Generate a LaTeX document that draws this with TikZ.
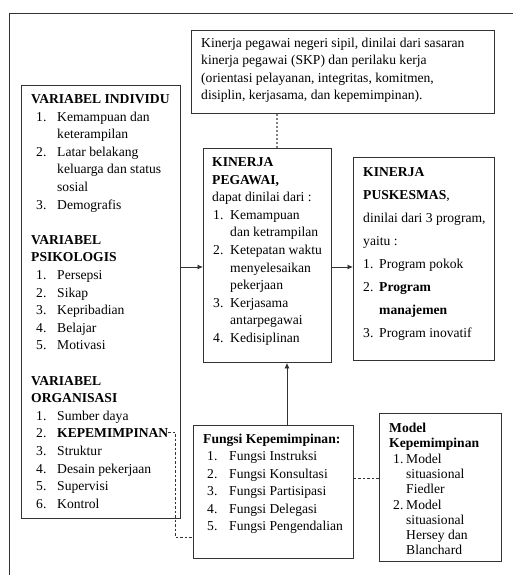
\documentclass[tikz,border=0pt]{standalone}
\usepackage{fontspec}
\setmainfont{Liberation Serif}
\usetikzlibrary{arrows.meta,calc,positioning}
\newcommand{\itemrow}[4]{\hspace*{#1pt}\makebox[#2pt][l]{#3}#4}
\definecolor{boxline}{gray}{0.2}

\begin{document}
\begin{tikzpicture}[x=1pt,y=-1pt,
    box/.style={draw=boxline,line width=0.9pt,rectangle,inner sep=0pt,anchor=north west},
    txt/.style={anchor=base west,inner sep=0pt},
    arr/.style={-{Latex[length=5.5pt,width=5pt]},line width=0.8pt,draw=boxline},
    dashline/.style={draw=boxline,line width=0.6pt,dash pattern=on 2.5pt off 2pt}]
  \useasboundingbox (0,0) rectangle (512,575);
  %Frame
  \draw[boxline,line width=0.9pt] (9,590) -- (9,13) -- (530,13);
  %Boxes
  \node[box,minimum width=303pt,minimum height=83pt] (top) at (191,30) {};
  \node[box,minimum width=159pt,minimum height=433pt] (var) at (21,85) {};
  \node[box,minimum width=128pt,minimum height=214pt] (kp) at (203,148) {};
  \node[box,minimum width=141pt,minimum height=203pt] (pk) at (353,157) {};
  \node[box,minimum width=160pt,minimum height=133pt] (fk) at (193,425) {};
  \node[box,minimum width=122pt,minimum height=148pt] (mk) at (379,413) {};
  %Text
  \node[txt,font=\fontsize{13.6}{17.3}\selectfont] (toptxt) at (201,47.5) {%
    \begin{tabular}[t]{@{}l@{}}
    Kinerja pegawai negeri sipil, dinilai dari sasaran\\
    kinerja pegawai (SKP) dan perilaku kerja\\
    (orientasi pelayanan, integritas, komitmen,\\
    disiplin, kerjasama, dan kepemimpinan).
    \end{tabular}};
  \def\vi{\itemrow{5}{21}}
  \node[txt,font=\fontsize{13.6}{17.6}\selectfont] (vartxt) at (31,103.5) {%
    \begin{tabular}[t]{@{}l@{}}
    \textbf{VARIABEL INDIVIDU}\\
    \vi{1.}{Kemampuan dan}\\
    \vi{}{keterampilan}\\
    \vi{2.}{Latar belakang}\\
    \vi{}{keluarga dan status}\\
    \vi{}{sosial}\\
    \vi{3.}{Demografis}\\
    \\
    \textbf{VARIABEL}\\
    \textbf{PSIKOLOGIS}\\
    \vi{1.}{Persepsi}\\
    \vi{2.}{Sikap}\\
    \vi{3.}{Kepribadian}\\
    \vi{4.}{Belajar}\\
    \vi{5.}{Motivasi}\\
    \\
    \textbf{VARIABEL}\\
    \textbf{ORGANISASI}\\
    \vi{1.}{Sumber daya}\\
    \vi{2.}{\textbf{KEPEMIMPINAN}}\\
    \vi{3.}{Struktur}\\
    \vi{4.}{Desain pekerjaan}\\
    \vi{5.}{Supervisi}\\
    \vi{6.}{Kontrol}
    \end{tabular}};
  \def\kpi{\itemrow{1}{17}}
  \node[txt,font=\fontsize{13.6}{17.6}\selectfont] (kptxt) at (212,166.5) {%
    \begin{tabular}[t]{@{}l@{}}
    \textbf{KINERJA}\\
    \textbf{PEGAWAI,}\\
    dapat dinilai dari :\\
    \kpi{1.}{Kemampuan}\\
    \kpi{}{dan ketrampilan}\\
    \kpi{2.}{Ketepatan waktu}\\
    \kpi{}{menyelesaikan}\\
    \kpi{}{pekerjaan}\\
    \kpi{3.}{Kerjasama}\\
    \kpi{}{antarpegawai}\\
    \kpi{4.}{Kedisiplinan}
    \end{tabular}};
  \def\pki{\itemrow{0}{16}}
  \node[txt,font=\fontsize{13.6}{23}\selectfont] (pktxt) at (363,176.5) {%
    \begin{tabular}[t]{@{}l@{}}
    \textbf{KINERJA}\\
    \textbf{PUSKESMAS},\\
    dinilai dari 3 program,\\
    yaitu :\\
    \pki{1.}{Program pokok}\\
    \pki{2.}{\textbf{Program}}\\
    \pki{}{\textbf{manajemen}}\\
    \pki{3.}{Program inovatif}
    \end{tabular}};
  \def\fki{\itemrow{4}{22}}
  \node[txt,font=\fontsize{13.6}{17.4}\selectfont] (fktxt) at (203,443.5) {%
    \begin{tabular}[t]{@{}l@{}}
    \textbf{Fungsi Kepemimpinan:}\\
    \fki{1.}{Fungsi Instruksi}\\
    \fki{2.}{Fungsi Konsultasi}\\
    \fki{3.}{Fungsi Partisipasi}\\
    \fki{4.}{Fungsi Delegasi}\\
    \fki{5.}{Fungsi Pengendalian}
    \end{tabular}};
  \def\mki{\itemrow{4}{13}}
  \node[txt,font=\fontsize{13.6}{15.3}\selectfont] (mktxt) at (389,432.5) {%
    \begin{tabular}[t]{@{}l@{}}
    \textbf{Model}\\
    \textbf{Kepemimpinan}\\
    \mki{1.}{Model}\\
    \mki{}{situasional}\\
    \mki{}{Fiedler}\\
    \mki{2.}{Model}\\
    \mki{}{situasional}\\
    \mki{}{Hersey dan}\\
    \mki{}{Blanchard}
    \end{tabular}};
  %Connectors
  \coordinate (arry) at (0,267);
  \coordinate (dotx) at (277,0);
  \coordinate (upx) at (287,0);
  \coordinate (dashy) at (0,478);
  \coordinate (kepend) at (168,432);
  \coordinate (kepx) at (175,0);
  \coordinate (kepy) at (0,537);
  \draw[draw=gray,line width=1.3pt,dash pattern=on 2pt off 2pt] (top.south -| dotx) -- (kp.north -| dotx);
  \draw[arr] (var.east |- arry) -- (kp.west |- arry);
  \draw[arr] (kp.east |- arry) -- (pk.west |- arry);
  \draw[arr] (fk.north -| upx) -- (kp.south -| upx);
  \draw[dashline] (fk.east |- dashy) -- (mk.west |- dashy);
  \draw[dashline] (kepend) -- (kepend -| kepx) -- (kepx |- kepy) -- (fk.west |- kepy);
\end{tikzpicture}
\end{document}
